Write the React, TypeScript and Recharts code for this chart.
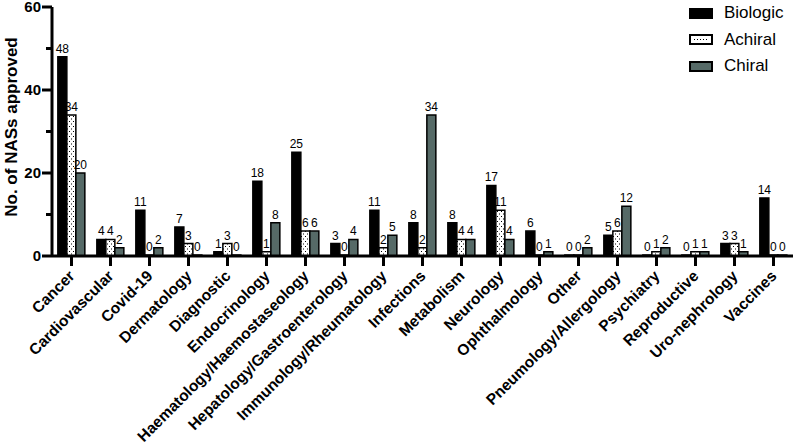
import React from "react";
import { BarChart, Bar, XAxis, YAxis, Legend, LabelList } from "recharts";

const categories = [
  "Cancer",
  "Cardiovascular",
  "Covid-19",
  "Dermatology",
  "Diagnostic",
  "Endocrinology",
  "Haematology/Haemostaseology",
  "Hepatology/Gastroenterology",
  "Immunology/Rheumatology",
  "Infections",
  "Metabolism",
  "Neurology",
  "Ophthalmology",
  "Other",
  "Pneumology/Allergology",
  "Psychiatry",
  "Reproductive",
  "Uro-nephrology",
  "Vaccines",
];
const biologic = [48, 4, 11, 7, 1, 18, 25, 3, 11, 8, 8, 17, 6, 0, 5, 0, 0, 3, 14];
const achiral = [34, 4, 0, 3, 3, 1, 6, 0, 2, 2, 4, 11, 0, 0, 6, 1, 1, 3, 0];
const chiral = [20, 2, 2, 0, 0, 8, 6, 4, 5, 34, 4, 4, 1, 2, 12, 2, 1, 1, 0];
const yTicks = [0, 10, 20, 30, 40, 50, 60];

const data = categories.map((name, i) => ({
  name,
  Biologic: biologic[i],
  Achiral: achiral[i],
  Chiral: chiral[i],
}));

const CHIRAL = "#566a67";
const FONT = 'Arial, "Liberation Sans", sans-serif';

function XTick({ x, y, payload }: any) {
  const ax = x + 4;
  const ay = y + 21;
  return (
    <g>
      <line x1={x} x2={x} y1={y + 1} y2={y + 10} stroke="#000" strokeWidth={3} />
      <text
        x={ax}
        y={ay}
        textAnchor="end"
        transform={`rotate(-45, ${ax}, ${ay})`}
        fontSize={15.5}
        fontWeight="bold"
        fill="#000"
        fontFamily={FONT}
      >
        {payload.value}
      </text>
    </g>
  );
}

function YTick({ x, y, payload }: any) {
  const major = payload.value % 20 === 0;
  return (
    <g>
      <line x1={x - (major ? 10 : 6)} x2={x} y1={y} y2={y} stroke="#000" strokeWidth={3} />
      {major && (
        <text
          x={x - 11}
          y={y}
          dy="0.36em"
          textAnchor="end"
          fontSize={15}
          fontWeight="bold"
          fill="#000"
          fontFamily={FONT}
        >
          {payload.value}
        </text>
      )}
    </g>
  );
}

function valueLabel(props: any) {
  const { x, y, width, value } = props;
  return (
    <text
      x={Number(x) + Number(width) / 2}
      y={Number(y) - 4}
      textAnchor="middle"
      fontSize={12}
      fill="#000"
      fontFamily={FONT}
    >
      {value}
    </text>
  );
}

function LegendBox({ kind }: { kind: string }) {
  return (
    <svg width={24} height={11} style={{ display: "block" }}>
      <rect
        x={1}
        y={1}
        width={22}
        height={9}
        fill={kind === "Biologic" ? "#000" : kind === "Chiral" ? CHIRAL : "#fff"}
        stroke="#000"
        strokeWidth={2}
      />
      {kind === "Achiral" && (
        <line x1={5} x2={20} y1={5.5} y2={5.5} stroke="#000" strokeWidth={1} strokeDasharray="1 2" />
      )}
    </svg>
  );
}

function renderLegend() {
  return (
    <div style={{ fontFamily: FONT }}>
      {["Biologic", "Achiral", "Chiral"].map((k) => (
        <div key={k} style={{ display: "flex", alignItems: "center", height: 26.5 }}>
          <LegendBox kind={k} />
          <span style={{ marginLeft: 11, fontSize: 17, color: "#000" }}>{k}</span>
        </div>
      ))}
    </div>
  );
}

export default function App() {
  return (
    <div style={{ position: "absolute", left: 0, top: 0 }}>
      <BarChart
        width={796}
        height={448}
        data={data}
        margin={{ top: 7, right: 3, left: 0, bottom: 0 }}
        barGap={0}
        barCategoryGap="15%"
        style={{ fontFamily: FONT }}
      >
        <defs>
          <pattern id="dots" width="4" height="5" patternUnits="userSpaceOnUse">
            <rect width="4" height="5" fill="#fff" />
            <rect x="1" y="1" width="1" height="1" fill="#000" />
            <rect x="3" y="3.5" width="1" height="1" fill="#000" />
          </pattern>
        </defs>
        <XAxis
          dataKey="name"
          interval={0}
          height={192}
          tick={XTick}
          tickLine={false}
          tickSize={0}
          tickMargin={0}
          axisLine={{ stroke: "#000", strokeWidth: 3 }}
        />
        <YAxis
          width={52}
          domain={[0, 60]}
          ticks={yTicks}
          interval={0}
          tick={YTick}
          tickLine={false}
          tickSize={0}
          tickMargin={0}
          axisLine={{ stroke: "#000", strokeWidth: 3 }}
          label={{
            value: "No. of NASs approved",
            content: () => (
              <text
                x={17}
                y={127}
                textAnchor="middle"
                transform="rotate(-90, 17, 127)"
                fontSize={17}
                fontWeight="bold"
                fill="#000"
                fontFamily={FONT}
              >
                No. of NASs approved
              </text>
            ),
          }}
        />
        <Legend
          layout="horizontal"
          align="center"
          verticalAlign="middle"
          content={renderLegend}
          wrapperStyle={{ position: "absolute", top: 0, left: 689, width: 110 }}
        />
        <Bar dataKey="Biologic" fill="#000" stroke="#000" strokeWidth={1.5} minPointSize={1} isAnimationActive={false}>
          <LabelList dataKey="Biologic" content={valueLabel} />
        </Bar>
        <Bar dataKey="Achiral" fill="url(#dots)" stroke="#000" strokeWidth={1.5} minPointSize={1} isAnimationActive={false}>
          <LabelList dataKey="Achiral" content={valueLabel} />
        </Bar>
        <Bar dataKey="Chiral" fill={CHIRAL} stroke="#000" strokeWidth={1.5} minPointSize={1} isAnimationActive={false}>
          <LabelList dataKey="Chiral" content={valueLabel} />
        </Bar>
      </BarChart>
    </div>
  );
}
